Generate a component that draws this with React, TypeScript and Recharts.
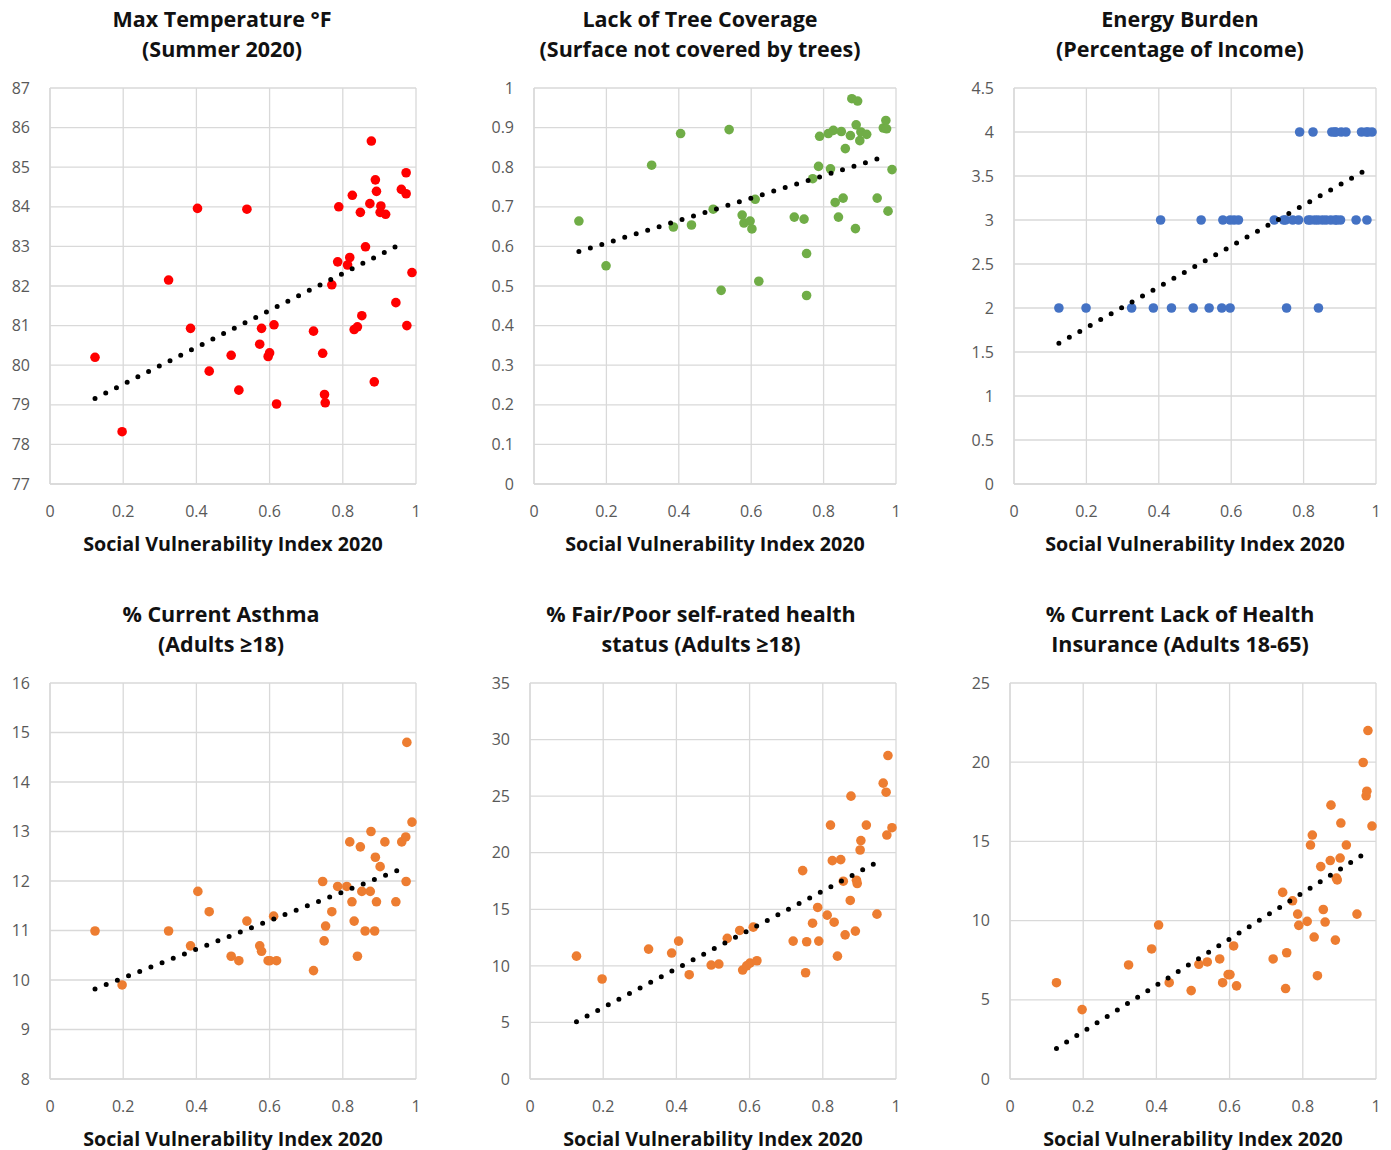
import React from 'react';
import { ScatterChart, Scatter, XAxis, YAxis, CartesianGrid } from 'recharts';

// x axis shared by all six panels
const sviTicks = [0, 0.2, 0.4, 0.6, 0.8, 1];
const xAxisTitle = 'Social Vulnerability Index 2020';

// [SVI, value] pairs
const maxTempPoints = [
  [0.123, 80.2], [0.197, 78.32], [0.324, 82.15], [0.384, 80.93], [0.403, 83.96],
  [0.435, 79.85], [0.495, 80.25], [0.516, 79.37], [0.538, 83.94], [0.573, 80.53],
  [0.578, 80.93], [0.596, 80.22], [0.6, 80.31], [0.612, 81.02], [0.619, 79.02],
  [0.72, 80.86], [0.745, 80.3], [0.75, 79.26], [0.752, 79.05], [0.77, 82.03],
  [0.786, 82.61], [0.789, 84.0], [0.813, 82.53], [0.819, 82.72], [0.826, 84.29],
  [0.831, 80.9], [0.84, 80.97], [0.848, 83.86], [0.852, 81.25], [0.862, 82.99],
  [0.874, 84.08], [0.878, 85.66], [0.886, 79.58], [0.889, 84.68], [0.892, 84.39],
  [0.902, 83.86], [0.904, 84.02], [0.917, 83.81], [0.945, 81.58], [0.96, 84.44],
  [0.973, 84.86], [0.973, 84.33], [0.975, 81.0], [0.989, 82.34],
];
const maxTempTrend = [[0.123, 79.16], [0.968, 83.1]];
const maxTempTicks = [77, 78, 79, 80, 81, 82, 83, 84, 85, 86, 87];

const treePoints = [
  [0.124, 0.664], [0.199, 0.551], [0.325, 0.805], [0.385, 0.649], [0.405, 0.885],
  [0.435, 0.654], [0.495, 0.694], [0.517, 0.489], [0.539, 0.895], [0.575, 0.679],
  [0.58, 0.659], [0.597, 0.664], [0.602, 0.644], [0.611, 0.719], [0.621, 0.512],
  [0.719, 0.674], [0.746, 0.669], [0.753, 0.582], [0.753, 0.476], [0.77, 0.771],
  [0.786, 0.802], [0.789, 0.878], [0.813, 0.885], [0.819, 0.796], [0.827, 0.893],
  [0.832, 0.711], [0.841, 0.674], [0.849, 0.89], [0.854, 0.722], [0.86, 0.847],
  [0.874, 0.88], [0.878, 0.973], [0.888, 0.645], [0.89, 0.907], [0.894, 0.967],
  [0.9, 0.867], [0.903, 0.889], [0.919, 0.883], [0.948, 0.722], [0.965, 0.899],
  [0.972, 0.918], [0.974, 0.897], [0.978, 0.689], [0.989, 0.794],
];
const treeTrend = [[0.124, 0.587], [0.974, 0.828]];
const treeTicks = [0, 0.1, 0.2, 0.3, 0.4, 0.5, 0.6, 0.7, 0.8, 0.9, 1];

const energyPoints = [
  [0.124, 2], [0.199, 2], [0.325, 2], [0.385, 2], [0.435, 2], [0.495, 2],
  [0.539, 2], [0.574, 2], [0.597, 2], [0.753, 2], [0.841, 2],
  [0.405, 3], [0.517, 3], [0.577, 3], [0.597, 3], [0.608, 3], [0.62, 3],
  [0.719, 3], [0.745, 3], [0.75, 3], [0.77, 3], [0.786, 3], [0.813, 3],
  [0.819, 3], [0.831, 3], [0.84, 3], [0.852, 3], [0.862, 3], [0.875, 3],
  [0.887, 3], [0.892, 3], [0.902, 3], [0.945, 3], [0.975, 3],
  [0.789, 4], [0.826, 4], [0.878, 4], [0.886, 4], [0.889, 4], [0.904, 4],
  [0.917, 4], [0.96, 4], [0.973, 4], [0.978, 4], [0.989, 4],
];
const energyTrend = [[0.124, 1.6], [0.986, 3.6]];
const energyTicks = [0, 0.5, 1, 1.5, 2, 2.5, 3, 3.5, 4, 4.5];

const asthmaPoints = [
  [0.123, 10.99], [0.197, 9.9], [0.324, 10.99], [0.384, 10.69], [0.404, 11.79],
  [0.435, 11.38], [0.495, 10.48], [0.516, 10.39], [0.538, 11.19], [0.573, 10.69],
  [0.578, 10.58], [0.596, 10.39], [0.601, 10.39], [0.611, 11.29], [0.619, 10.39],
  [0.72, 10.19], [0.745, 11.99], [0.749, 10.79], [0.753, 11.09], [0.77, 11.38],
  [0.786, 11.89], [0.811, 11.89], [0.819, 12.79], [0.825, 11.58], [0.831, 11.19],
  [0.84, 10.48], [0.848, 12.69], [0.852, 11.79], [0.861, 10.99], [0.875, 11.79],
  [0.877, 13.0], [0.887, 10.99], [0.889, 12.48], [0.892, 11.58], [0.902, 12.29],
  [0.915, 12.79], [0.945, 11.58], [0.961, 12.79], [0.972, 12.89], [0.973, 11.99],
  [0.975, 14.8], [0.989, 13.19],
];
const asthmaTrend = [[0.123, 9.82], [0.973, 12.28]];
const asthmaTicks = [8, 9, 10, 11, 12, 13, 14, 15, 16];

const healthPoints = [
  [0.127, 10.86], [0.197, 8.84], [0.324, 11.48], [0.387, 11.13], [0.406, 12.19],
  [0.435, 9.22], [0.495, 10.07], [0.516, 10.16], [0.539, 12.43], [0.573, 13.13],
  [0.581, 9.63], [0.592, 10.0], [0.601, 10.24], [0.61, 13.42], [0.62, 10.45],
  [0.719, 12.19], [0.745, 18.42], [0.753, 9.39], [0.756, 12.13], [0.772, 13.77],
  [0.786, 15.16], [0.789, 12.19], [0.812, 14.48], [0.821, 22.44], [0.826, 19.3],
  [0.831, 13.86], [0.84, 10.86], [0.849, 19.39], [0.856, 17.48], [0.861, 12.74],
  [0.875, 15.78], [0.877, 25.0], [0.889, 13.07], [0.892, 17.57], [0.894, 17.28],
  [0.902, 20.24], [0.904, 21.07], [0.919, 22.44], [0.948, 14.57], [0.965, 26.15],
  [0.973, 25.35], [0.975, 21.56], [0.978, 28.59], [0.989, 22.21],
];
const healthTrend = [[0.127, 5.07], [0.963, 19.42]];
const healthTicks = [0, 5, 10, 15, 20, 25, 30, 35];

const insurancePoints = [
  [0.127, 6.08], [0.197, 4.38], [0.324, 7.2], [0.387, 8.21], [0.406, 9.72],
  [0.435, 6.08], [0.495, 5.58], [0.516, 7.24], [0.539, 7.39], [0.573, 7.58],
  [0.581, 6.08], [0.596, 6.59], [0.601, 6.59], [0.611, 8.4], [0.619, 5.88],
  [0.719, 7.58], [0.745, 11.78], [0.753, 5.71], [0.756, 7.97], [0.772, 11.25],
  [0.786, 10.41], [0.789, 9.7], [0.812, 9.95], [0.821, 14.77], [0.826, 15.4],
  [0.831, 8.96], [0.84, 6.52], [0.849, 13.41], [0.856, 10.7], [0.861, 9.91],
  [0.875, 13.79], [0.877, 17.29], [0.889, 8.77], [0.892, 12.68], [0.894, 12.57],
  [0.902, 13.95], [0.904, 16.16], [0.919, 14.77], [0.948, 10.41], [0.965, 19.98],
  [0.973, 17.88], [0.975, 18.17], [0.978, 22.0], [0.989, 15.97],
];
const insuranceTrend = [[0.127, 1.93], [0.981, 14.4]];
const insuranceTicks = [0, 5, 10, 15, 20, 25];

const toXY = (pairs: number[][]) => pairs.map(([x, y]) => ({ x, y }));

const panels = [
  { title: ['Max Temperature °F', '(Summer 2020)'], points: maxTempPoints, trend: maxTempTrend, ticks: maxTempTicks, color: '#FF0000', titleX: 222, plotLeft: 50, plotWidth: 366, plotTop: 88 },
  { title: ['Lack of Tree Coverage', '(Surface not covered by trees)'], points: treePoints, trend: treeTrend, ticks: treeTicks, color: '#70AD47', titleX: 700, plotLeft: 534, plotWidth: 362, plotTop: 88 },
  { title: ['Energy Burden', '(Percentage of Income)'], points: energyPoints, trend: energyTrend, ticks: energyTicks, color: '#4472C4', titleX: 1180, plotLeft: 1014, plotWidth: 362, plotTop: 88 },
  { title: ['% Current Asthma', '(Adults ≥18)'], points: asthmaPoints, trend: asthmaTrend, ticks: asthmaTicks, color: '#ED7D31', titleX: 221, plotLeft: 50, plotWidth: 366, plotTop: 683 },
  { title: ['% Fair/Poor self-rated health', 'status (Adults ≥18)'], points: healthPoints, trend: healthTrend, ticks: healthTicks, color: '#ED7D31', titleX: 701, plotLeft: 530, plotWidth: 366, plotTop: 683 },
  { title: ['% Current Lack of Health', 'Insurance (Adults 18-65)'], points: insurancePoints, trend: insuranceTrend, ticks: insuranceTicks, color: '#ED7D31', titleX: 1180, plotLeft: 1010, plotWidth: 366, plotTop: 683 },
];

const PLOT_H = 396;
const Y_AXIS_W = 60;
const FONT = '"Open Sans", "Noto Sans", sans-serif';
const tickStyle = { fill: '#595959', fontSize: 16, fontFamily: FONT };

function Panel({ p }: { p: (typeof panels)[number] }) {
  const chartW = Y_AXIS_W + p.plotWidth + 15;
  const chartH = 10 + PLOT_H + 50;
  const color = p.color;
  return (
    <>
      <div style={{
        position: 'absolute', left: p.titleX - 220, width: 440, top: p.plotTop - 84,
        textAlign: 'center', fontWeight: 700, fontSize: 21.5, lineHeight: '30px', color: '#111',
      }}>
        <div>{p.title[0]}</div>
        <div>{p.title[1]}</div>
      </div>
      <div style={{ position: 'absolute', left: p.plotLeft - Y_AXIS_W, top: p.plotTop - 10 }}>
        <ScatterChart width={chartW} height={chartH} margin={{ top: 10, right: 15, left: 0, bottom: 0 }}>
          <CartesianGrid stroke="#d9d9d9" strokeWidth={1.3} />
          <XAxis
            type="number"
            dataKey="x"
            domain={[0, 1]}
            ticks={sviTicks}
            axisLine={{ stroke: '#d9d9d9', strokeWidth: 1.3 }}
            tickLine={false}
            tick={tickStyle}
            tickMargin={16}
            height={50}
            interval={0}
          />
          <YAxis
            type="number"
            dataKey="y"
            domain={[p.ticks[0], p.ticks[p.ticks.length - 1]]}
            ticks={p.ticks}
            axisLine={{ stroke: '#d9d9d9', strokeWidth: 1.3 }}
            tickLine={false}
            tick={tickStyle}
            tickMargin={14}
            width={Y_AXIS_W}
            interval={0}
          />
          <Scatter
            data={toXY(p.points)}
            isAnimationActive={false}
            shape={(s: any) => <circle cx={s.cx} cy={s.cy} r={4.8} fill={color} />}
          />
          <Scatter
            data={toXY(p.trend)}
            isAnimationActive={false}
            line={{ stroke: '#000', strokeWidth: 5, strokeDasharray: '0 12', strokeLinecap: 'round' }}
            shape={() => <g />}
          />
        </ScatterChart>
      </div>
      <div style={{
        position: 'absolute', left: p.plotLeft + p.plotWidth / 2 - 220, width: 440, top: p.plotTop + PLOT_H + 45,
        textAlign: 'center', fontWeight: 700, fontSize: 19.7, lineHeight: '30px', color: '#111',
      }}>
        {xAxisTitle}
      </div>
    </>
  );
}

export default function App() {
  return (
    <div style={{ position: 'absolute', left: 0, top: 0, width: 1391, height: 1150, background: '#fff', fontFamily: FONT }}>
      {panels.map((p, i) => <Panel key={i} p={p} />)}
    </div>
  );
}
